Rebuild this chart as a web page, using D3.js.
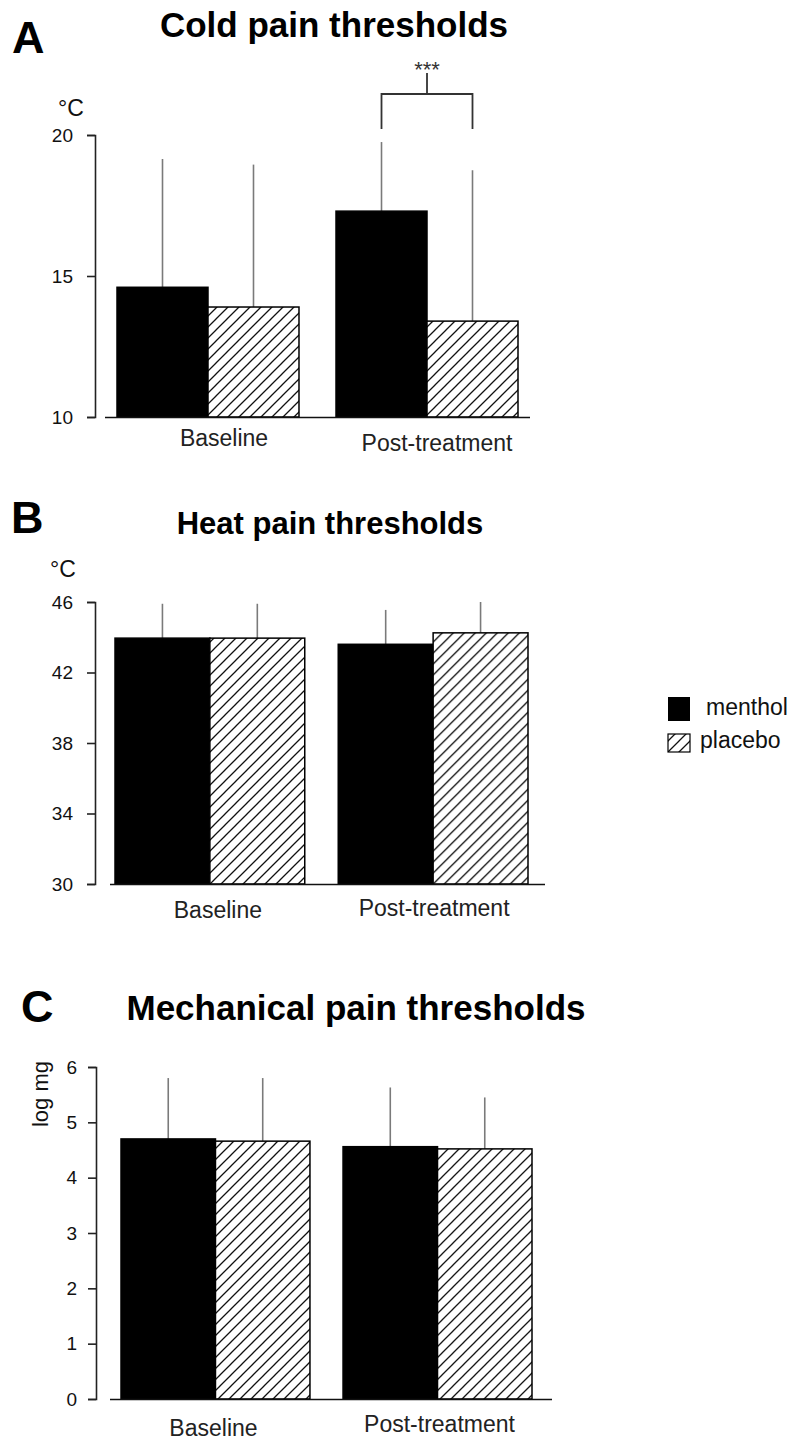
<!DOCTYPE html>
<html>
<head>
<meta charset="utf-8">
<script src="https://cdn.jsdelivr.net/npm/d3@7"></script>
<style>
  html, body { margin: 0; padding: 0; background: #fff; }
  svg { display: block; font-family: "Liberation Sans", Arial, sans-serif; }
</style>
</head>
<body>
<svg id="chart" width="791" height="1443"></svg>
<script>
      // groups and series
      const categories = ["Baseline", "Post-treatment"];
      const seriesNames = ["menthol", "placebo"];

      // A: cold pain thresholds (°C), mean and upper SD end
      const coldMeans = [[14.6, 13.9], [17.3, 13.4]];
      const coldUpper = [[19.15, 18.95], [19.75, 18.75]];
      const coldTicks = [10, 15, 20];

      // B: heat pain thresholds (°C)
      const heatMeans = [[43.95, 43.95], [43.6, 44.25]];
      const heatUpper = [[45.9, 45.9], [45.55, 46.0]];
      const heatTicks = [30, 34, 38, 42, 46];

      // C: mechanical pain thresholds (log mg)
      const mechMeans = [[4.7, 4.66], [4.56, 4.52]];
      const mechUpper = [[5.8, 5.8], [5.63, 5.45]];
      const mechTicks = [0, 1, 2, 3, 4, 5, 6];

      const svg = d3.select("#chart");

      const defs = svg.append("defs");
      const hatch = defs.append("pattern")
        .attr("id", "hatch")
        .attr("patternUnits", "userSpaceOnUse")
        .attr("width", 11)
        .attr("height", 11);
      hatch.append("rect").attr("width", 11).attr("height", 11).attr("fill", "#fff");
      hatch.append("path")
        .attr("d", "M-1,1 l2,-2 M0,11 l11,-11 M10,12 l2,-2")
        .attr("stroke", "#111")
        .attr("stroke-width", 1.3);

      const fills = d3.scaleOrdinal().domain(seriesNames).range(["#000", "url(#hatch)"]);

      function drawPanel(cfg) {
        const g = svg.append("g");
        const y = d3.scaleLinear().domain(cfg.domain).range(cfg.yRange);
        const x0 = d3.scaleBand().domain(categories).range(cfg.xRange).paddingInner(cfg.padInner);
        const x1 = d3.scaleBand().domain(seriesNames).range([0, x0.bandwidth()]);

        // letter + title
        g.append("text")
          .attr("x", cfg.letter[0]).attr("y", cfg.letter[1])
          .attr("font-size", 45).attr("font-weight", "bold")
          .text(cfg.letterText);
        g.append("text")
          .attr("x", cfg.title[0]).attr("y", cfg.title[1])
          .attr("text-anchor", "middle")
          .attr("font-size", cfg.titleFont).attr("font-weight", "bold")
          .text(cfg.titleText);

        // unit label
        if (cfg.unitRotate) {
          g.append("text")
            .attr("transform", `translate(${cfg.unit[0]},${cfg.unit[1]}) rotate(-90)`)
            .attr("text-anchor", "middle")
            .attr("font-size", 22).attr("fill", "#111")
            .text(cfg.unitText);
        } else {
          g.append("text")
            .attr("x", cfg.unit[0]).attr("y", cfg.unit[1])
            .attr("font-size", 23).attr("fill", "#111")
            .text(cfg.unitText);
        }

        // y axis
        const yAxis = g.append("g")
          .attr("transform", `translate(${cfg.axisX},0)`)
          .call(d3.axisLeft(y).tickValues(cfg.ticks).tickFormat(d3.format("d"))
            .tickSize(8).tickSizeOuter(8).tickPadding(cfg.tickPad));
        yAxis.select(".domain").attr("stroke", "#222").attr("stroke-width", 1.6);
        yAxis.selectAll(".tick line").attr("stroke", "#222").attr("stroke-width", 1.6);
        yAxis.selectAll(".tick text")
          .attr("font-size", cfg.tickFont).attr("fill", "#111")
          .attr("font-family", "Liberation Sans, Arial, sans-serif");

        // bars
        const groups = g.selectAll("g.grp")
          .data(categories.map((c, i) => ({ cat: c, means: cfg.means[i], upper: cfg.upper[i] })))
          .join("g")
          .attr("class", "grp")
          .attr("transform", (d) => `translate(${x0(d.cat)},0)`);

        const items = (d) => seriesNames.map((s, j) => ({ series: s, mean: d.means[j], upper: d.upper[j] }));

        groups.selectAll("line.err")
          .data(items)
          .join("line")
          .attr("class", "err")
          .attr("x1", (d) => x1(d.series) + x1.bandwidth() / 2)
          .attr("x2", (d) => x1(d.series) + x1.bandwidth() / 2)
          .attr("y1", (d) => y(d.mean))
          .attr("y2", (d) => y(d.upper))
          .attr("stroke", "#7a7a7a")
          .attr("stroke-width", 1.6);

        groups.selectAll("rect.bar")
          .data(items)
          .join("rect")
          .attr("class", "bar")
          .attr("x", (d) => x1(d.series))
          .attr("y", (d) => y(d.mean))
          .attr("width", x1.bandwidth())
          .attr("height", (d) => y(cfg.domain[0]) - y(d.mean))
          .attr("fill", (d) => fills(d.series))
          .attr("stroke", "#000")
          .attr("stroke-width", 1.5);

        // x axis baseline
        g.append("line")
          .attr("x1", cfg.baseLine[0]).attr("x2", cfg.baseLine[1])
          .attr("y1", y(cfg.domain[0]) + 0.5).attr("y2", y(cfg.domain[0]) + 0.5)
          .attr("stroke", "#111").attr("stroke-width", 1.6);

        // category labels
        g.selectAll("text.cat")
          .data(categories)
          .join("text")
          .attr("class", "cat")
          .attr("x", (d, i) => x0(d) + x0.bandwidth() / 2 + cfg.labelDx[i])
          .attr("y", (d, i) => y(cfg.domain[0]) + cfg.labelDy[i])
          .attr("text-anchor", "middle")
          .attr("font-size", 23).attr("fill", "#222")
          .text((d) => d);

        return { x0, x1, y, g };
      }

      const panelA = drawPanel({
        letterText: "A", letter: [12, 53],
        titleText: "Cold pain thresholds", title: [334, 37], titleFont: 35,
        unitText: "°C", unit: [58, 116],
        domain: [10, 20], yRange: [417, 135], ticks: coldTicks, tickPad: 14, tickFont: 19,
        axisX: 95, xRange: [117, 518], padInner: 0.169, baseLine: [105, 530],
        means: coldMeans, upper: coldUpper,
        labelDx: [16, 10], labelDy: [29, 34]
      });

      drawPanel({
        letterText: "B", letter: [11, 533],
        titleText: "Heat pain thresholds", title: [330, 534], titleFont: 31,
        unitText: "°C", unit: [50, 577],
        domain: [30, 46], yRange: [884, 602], ticks: heatTicks, tickPad: 14, tickFont: 19,
        axisX: 95, xRange: [115, 528], padInner: 0.15, baseLine: [110, 545],
        means: heatMeans, upper: heatUpper,
        labelDx: [8, 1], labelDy: [34, 32]
      });

      drawPanel({
        letterText: "C", letter: [21, 1022],
        titleText: "Mechanical pain thresholds", title: [356, 1020], titleFont: 35,
        unitText: "log mg", unit: [48, 1094], unitRotate: true,
        domain: [0, 6], yRange: [1399, 1067], ticks: mechTicks, tickPad: 11, tickFont: 19,
        axisX: 96, xRange: [121, 532], padInner: 0.149, baseLine: [110, 552],
        means: mechMeans, upper: mechUpper,
        labelDx: [-2, 2], labelDy: [37, 33]
      });

      // significance bracket between post-treatment bars in A
      (function () {
        const { x0, x1, g } = panelA;
        const xa = x0("Post-treatment") + x1("menthol") + x1.bandwidth() / 2;
        const xb = x0("Post-treatment") + x1("placebo") + x1.bandwidth() / 2;
        const top = 94, bottom = 129;
        g.append("path")
          .attr("d", `M${xa},${bottom} V${top} H${xb} V${bottom} M${(xa + xb) / 2},${top} V73`)
          .attr("fill", "none")
          .attr("stroke", "#333")
          .attr("stroke-width", 1.8);
        g.append("text")
          .attr("x", (xa + xb) / 2).attr("y", 77)
          .attr("text-anchor", "middle")
          .attr("font-size", 22).attr("fill", "#333")
          .text("***");
      })();

      // legend
      const legend = svg.append("g").attr("transform", "translate(668,697)");
      legend.selectAll("rect")
        .data(seriesNames)
        .join("rect")
        .attr("x", 0)
        .attr("y", (d, i) => i * 37)
        .attr("width", 22)
        .attr("height", (d, i) => (i === 0 ? 24 : 18))
        .attr("fill", (d) => fills(d))
        .attr("stroke", "#000")
        .attr("stroke-width", (d, i) => (i === 0 ? 0 : 1.2));
      legend.selectAll("text")
        .data(seriesNames)
        .join("text")
        .attr("x", (d, i) => (i === 0 ? 38 : 32))
        .attr("y", (d, i) => (i === 0 ? 18 : 51))
        .attr("font-size", 23).attr("fill", "#111")
        .text((d) => d);
</script>
</body>
</html>
